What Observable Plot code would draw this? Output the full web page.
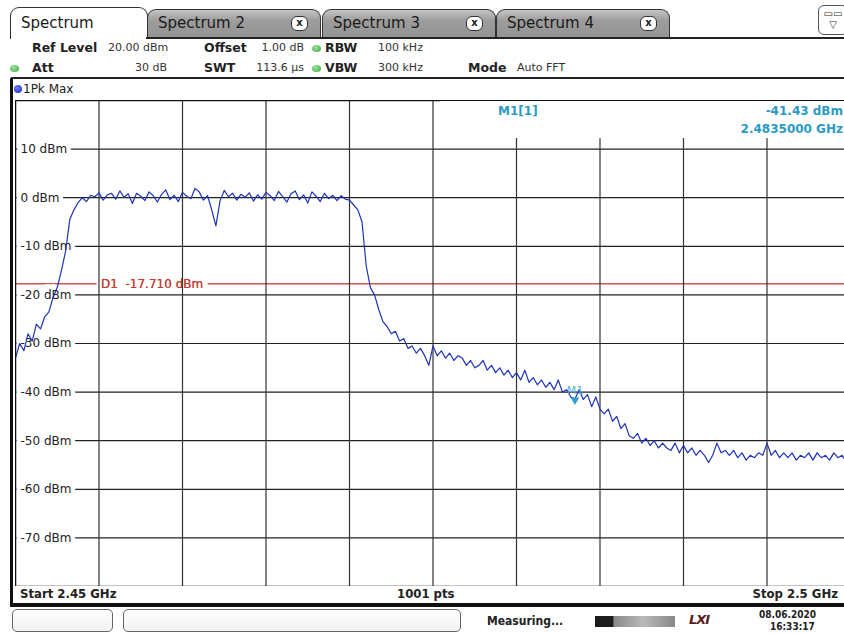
<!DOCTYPE html>
<html><head><meta charset="utf-8">
<script src="https://cdn.jsdelivr.net/npm/d3@7"></script>
<script src="https://cdn.jsdelivr.net/npm/@observablehq/plot@0.6"></script>
<style>
html,body{margin:0;padding:0;background:#fff;}
body{width:844px;height:634px;overflow:hidden;font-family:"DejaVu Sans",Verdana,sans-serif;color:#222;}
#root{position:relative;width:844px;height:634px;overflow:hidden;}
.abs{position:absolute;white-space:nowrap;}
.tab{position:absolute;top:9px;height:28px;border:1.5px solid #333;border-bottom:none;border-radius:9px 9px 0 0;box-sizing:border-box;background:linear-gradient(#c4c4c4,#9c9c9c 40%,#949494);font-size:15px;line-height:26px;padding-left:10px;color:#1a1a1a;}
.tab.active{top:7px;height:32px;background:#fff;line-height:30px;border-color:#333;}
.xbtn{position:absolute;top:6px;width:15px;height:13px;border:1px solid #333;border-radius:6px;background:#fff;font:bold 10px/12px "DejaVu Sans";text-align:center;color:#222;}
.b{font-weight:bold;font-size:12.5px;}
.info{line-height:14px;}
.v{font-size:11px;color:#333;}
.ra{transform:translateX(-100%);}
.dot{position:absolute;width:9px;height:7px;border-radius:50%;background:radial-gradient(circle at 40% 35%,#9be39b,#3aa83a);}
.foot{font-family:"DejaVu Sans Condensed","DejaVu Sans",sans-serif;font-weight:bold;font-size:13px;}
.box{position:absolute;top:609px;height:23px;border:1px solid #666;border-radius:5px;box-sizing:border-box;background:linear-gradient(#fff,#f2f2f2);}
</style></head>
<body><div id="root"></div>
<script>
// ---- data ----
const startGHz = 2.45;
const stopGHz = 2.5;
const sweepPoints = 201; // trace read at 0.25 MHz steps
const levels = [
 -33, -30, -31.5, -28, -29.5, -26, -27, -24.5, -23.5, -20.5,
 -18.5, -15, -11, -4.5, -2.5, -1, 0, -0.8, 0.5, 0.2,
 1.0, -0.5, 0.6, 0.9, -0.3, 1.4, 0.1, 0.8, -1.2, 0.9,
 0.3, -0.6, 1.2, 0.4, -0.9, 0.7, 1.6, -0.4, 0.5, -0.8,
 1.1, 0.3, -0.2, 1.9, 1.2, -0.5, 0.4, -2.5, -5.8, -0.6,
 1.5, 0.2, 0.9, -0.5, 0.7, 0.1, 1.0, -0.7, 0.6, -0.3,
 1.1, 0.4, -0.6, 1.3, 0.2, -0.9, 0.8, 1.4, -0.4, 0.6,
 -1.1, 1.2, 0.3, -0.8, 0.9, -0.2, 0.5, -0.6, 0.4, -0.3,
 -0.5, -1.5, -2.5, -5, -14, -18.5, -20, -23, -25.5, -26.5,
 -28, -27.5, -29.5, -29, -31, -30.5, -32, -31, -32.5, -34.5,
 -30.5, -32.5, -31.5, -33, -32, -33.5, -32.5, -33, -34.5, -33.5,
 -35, -34.5, -33.5, -35.5, -34.5, -36, -35, -36.5, -35.5, -37,
 -36, -37.5, -35.5, -38, -37, -38.5, -37.5, -39, -38, -39.5,
 -37.5, -40, -39.5, -41, -41.4, -39.5, -41.5, -40.5, -43, -41,
 -43.5, -44.5, -43.5, -46, -45, -47.5, -46.5, -49, -49.5, -48.5,
 -50.5, -49.5, -51, -50, -51.5, -50.5, -51.5, -52, -50.5, -52.5,
 -51, -52.5, -51.5, -53, -52, -53, -54.5, -53, -50.5, -52.5,
 -52, -53, -52, -53.5, -52.5, -54, -53, -53.5, -52.5, -53,
 -50.5, -53, -52, -53.5, -52.5, -53.5, -52.5, -54, -53, -53.5,
 -52.5, -54, -52.5, -53.5, -53, -54, -52.5, -53.5, -53, -54.5,
 -53
];
const yGrid = [20, 10, 0, -10, -20, -30, -40, -50, -60, -70, -80];
const yLabels = [10, 0, -10, -20, -30, -40, -50, -60, -70];
const xGrid = [2.455, 2.46, 2.465, 2.47, 2.475, 2.48, 2.485, 2.49, 2.495];
const displayLine = [-17.71];
const markerFreq = [2.4835];
const markerLevel = [-41.43];

// ---- build ----
const stepGHz = (stopGHz - startGHz) / (sweepPoints - 1);
const trace = levels.map((v, i) => ({f: startGHz + i * stepGHz, v}));
const marker = [{f: markerFreq[0], v: markerLevel[0]}];

const root = document.getElementById("root");
function el(html){ root.insertAdjacentHTML("beforeend", html); }

// tabs
el(`<div class="tab active" style="left:10px;width:138px;">Spectrum</div>`);
[["Spectrum 2",147],["Spectrum 3",322],["Spectrum 4",496]].forEach(([t,x])=>{
  el(`<div class="tab" style="left:${x}px;width:${174}px;">${t}<span class="xbtn" style="left:${143}px">x</span></div>`);
});
el(`<div class="abs" style="left:146px;top:37px;width:700px;height:1.5px;background:#222"></div>`);
el(`<div class="abs" style="left:818px;top:5px;width:30px;height:30px;border:1px solid #555;border-radius:6px;box-sizing:border-box;background:#fff;text-align:center;font-size:10px;line-height:11px;color:#333;padding-top:2px">▭▭<br>▽</div>`);

// info rows
el(`<div class="abs info b" style="left:32px;top:41px">Ref Level</div>`);
el(`<div class="abs info v" style="left:108px;top:41px">20.00 dBm</div>`);
el(`<div class="abs info b" style="left:204px;top:41px">Offset</div>`);
el(`<div class="abs info v ra" style="left:304px;top:41px">1.00 dB</div>`);
el(`<div class="dot" style="left:312px;top:45px"></div>`);
el(`<div class="abs info b" style="left:325px;top:41px">RBW</div>`);
el(`<div class="abs info v" style="left:378px;top:41px">100 kHz</div>`);
el(`<div class="dot" style="left:10px;top:65px"></div>`);
el(`<div class="abs info b" style="left:32px;top:61px">Att</div>`);
el(`<div class="abs info v ra" style="left:167px;top:61px">30 dB</div>`);
el(`<div class="abs info b" style="left:204px;top:61px">SWT</div>`);
el(`<div class="abs info v ra" style="left:304px;top:61px">113.6 µs</div>`);
el(`<div class="dot" style="left:312px;top:65px"></div>`);
el(`<div class="abs info b" style="left:325px;top:61px">VBW</div>`);
el(`<div class="abs info v" style="left:378px;top:61px">300 kHz</div>`);
el(`<div class="abs info b" style="left:468px;top:61px">Mode</div>`);
el(`<div class="abs info v" style="left:517px;top:61px">Auto FFT</div>`);
el(`<div class="abs" style="left:11px;top:77px;width:840px;height:1.5px;background:#222"></div>`);

// diagram frame
el(`<div class="abs" style="left:10px;top:78px;width:3px;height:529px;background:#111"></div>`);
el(`<div class="abs" style="left:14px;top:85px;width:8px;height:8px;border-radius:50%;background:radial-gradient(circle at 40% 35%,#6c7cff,#1428b8)"></div>`);
el(`<div class="abs" style="left:23px;top:82px;font-size:12px;line-height:14px;color:#222">1Pk Max</div>`);

// plot
const W = 835, H = 486;
const chart = Plot.plot({
  width: W, height: H, margin: 0,
  style: {background: "transparent", fontFamily: "DejaVu Sans"},
  x: {domain: [startGHz, stopGHz], axis: null},
  y: {domain: [-80, 20], axis: null},
  marks: [
    Plot.ruleY(displayLine, {stroke: "#c9554c", strokeWidth: 1.3}),
    Plot.text(displayLine, {x: xGrid[0], y: d => d, text: d => `D1  ${d.toFixed(3)} dBm`, textAnchor: "start", dx: 2, fontSize: 12, fill: "#c63d34", stroke: "white", strokeWidth: 11, strokeLinejoin: "miter"}),
    Plot.ruleY(yGrid, {stroke: "#222", strokeWidth: 1.2}),
    Plot.text(yLabels, {x: startGHz, y: d => d, text: d => `${d} dBm`, textAnchor: "start", dx: 5, fontSize: 12, fill: "#222", stroke: "white", strokeWidth: 9, strokeLinejoin: "miter"}),
    Plot.text(displayLine, {x: xGrid[0], y: d => d, text: d => `D1  ${d.toFixed(3)} dBm`, textAnchor: "start", dx: 2, fontSize: 12, fill: "#c63d34"}),
    Plot.ruleX(xGrid, {stroke: "#333", strokeWidth: 1.2}),
    Plot.line(trace, {x: "f", y: "v", stroke: "#1f33b8", strokeWidth: 1.2}),
    Plot.dot(marker, {x: "f", y: "v", symbol: "triangle", rotate: 180, r: 3.2, fill: "#2b9fd0", stroke: "none", dy: 1}),
    Plot.text(marker, {x: "f", y: "v", text: () => "M1", dy: -9, fontSize: 11, fill: "#5ab6d6"}),
    Plot.frame({stroke: "#111", strokeWidth: 1.5})
  ]
});
const holder = document.createElement("div");
holder.style.cssText = "position:absolute;left:15px;top:99.5px;width:835px;height:486px;";
holder.appendChild(chart);
root.appendChild(holder);

// marker readout (covers grid like the instrument)
el(`<div class="abs" style="left:440px;top:101px;width:410px;height:37px;background:#fff"></div>`);
el(`<div class="abs b" style="left:498px;top:104px;font-size:12px;color:#2a9bc4">M1[1]</div>`);
el(`<div class="abs b" style="right:1px;top:104px;font-size:12px;color:#2a9bc4">${markerLevel[0].toFixed(2)} dBm</div>`);
el(`<div class="abs b" style="right:1px;top:122px;font-size:12px;color:#2a9bc4">${markerFreq[0].toFixed(7)} GHz</div>`);

// footer
el(`<div class="abs foot" style="left:20px;top:586px">Start ${startGHz} GHz</div>`);
el(`<div class="abs foot" style="left:397px;top:586px">1001 pts</div>`);
el(`<div class="abs foot" style="right:6px;top:586px">Stop ${stopGHz} GHz</div>`);
el(`<div class="abs" style="left:10px;top:603px;width:840px;height:4px;background:#111"></div>`);

// status bar
el(`<div class="box" style="left:12px;width:101px"></div>`);
el(`<div class="box" style="left:123px;width:338px"></div>`);
el(`<div class="abs foot" style="left:487px;top:614px;font-size:12px">Measuring...</div>`);
el(`<div class="abs" style="left:595px;top:616px;width:80px;height:11px;background:linear-gradient(90deg,#1c1c1c 0,#1c1c1c 22%,#8a8a8a 24%,#b9b9b9 60%,#888 100%)"></div>`);
el(`<div class="abs" style="left:689px;top:612px;font:italic bold 13px 'DejaVu Sans';color:#5a2020;letter-spacing:-1px">LXI</div>`);
el(`<div class="abs foot" style="left:759px;top:609px;font-size:10px">08.06.2020</div>`);
el(`<div class="abs foot" style="left:770px;top:621px;font-size:10px">16:33:17</div>`);
</script>
</body></html>
